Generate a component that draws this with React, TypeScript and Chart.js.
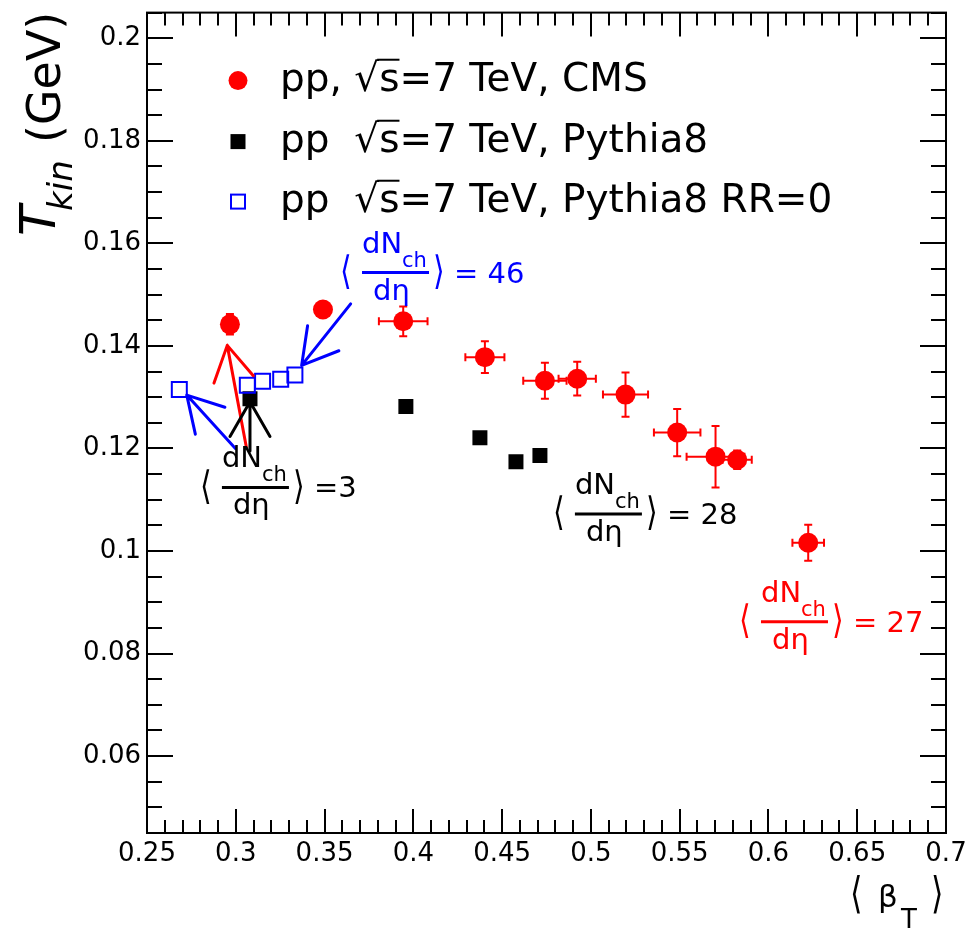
import React, { useEffect, useRef } from "react";
import { Chart, registerables } from "chart.js";

Chart.register(...registerables);

// ---------- data ----------
const X_MIN = 0.25;
const X_MAX = 0.7;
const Y_MIN = 0.045;
const Y_MAX = 0.205;
const X_TICKS = [0.25, 0.3, 0.35, 0.4, 0.45, 0.5, 0.55, 0.6, 0.65, 0.7];
const Y_TICKS = [0.06, 0.08, 0.1, 0.12, 0.14, 0.16, 0.18, 0.2];
const X_MINOR_STEP = 0.01;
const Y_MINOR_STEP = 0.005;

// pp, sqrt(s)=7 TeV, CMS
const CMS_BETA = [0.2967, 0.3491, 0.3943, 0.4403, 0.4741, 0.4923, 0.5195, 0.5486, 0.5702, 0.5824, 0.6224];
const CMS_TKIN = [0.1442, 0.1471, 0.1448, 0.1378, 0.1332, 0.1336, 0.1305, 0.1231, 0.1184, 0.1178, 0.1016];
const CMS_BETA_ERR = [0.004, 0, 0.0137, 0.011, 0.0122, 0.0105, 0.0127, 0.0131, 0.0163, 0.0082, 0.0089];
const CMS_TKIN_ERR = [0.002, 0, 0.0029, 0.0031, 0.0035, 0.0033, 0.0043, 0.0046, 0.006, 0.0018, 0.0035];

// pp, sqrt(s)=7 TeV, Pythia8
const PY8_BETA = [0.308, 0.3958, 0.4375, 0.4578, 0.4713];
const PY8_TKIN = [0.1297, 0.1282, 0.1221, 0.1174, 0.1186];

// pp, sqrt(s)=7 TeV, Pythia8 RR=0
const RR0_BETA = [0.2682, 0.3065, 0.3151, 0.3253, 0.3333];
const RR0_TKIN = [0.1315, 0.1323, 0.1331, 0.1335, 0.1343];

const LEGEND_LABELS = ["pp, √s=7 TeV, CMS", "pp  √s=7 TeV, Pythia8", "pp  √s=7 TeV, Pythia8 RR=0"];

// annotation arrows: tail -> head (data coordinates)
const ARROW_COLORS = ["#ff0000", "#000000", "#0000ff", "#0000ff"];
const ARROW_TAIL_X = [0.3061, 0.308, 0.2998, 0.3647];
const ARROW_TAIL_Y = [0.12, 0.1195, 0.12, 0.1482];
const ARROW_HEAD_X = [0.2952, 0.308, 0.2724, 0.3371];
const ARROW_HEAD_Y = [0.1401, 0.1291, 0.1304, 0.1362];

// <dNch/deta> labels (anchor = left end of fraction bar)
const NOTE_COLORS = ["#0000ff", "#000000", "#000000", "#ff0000"];
const NOTE_X = [0.3711, 0.2922, 0.491, 0.5958];
const NOTE_Y = [0.1543, 0.1124, 0.1072, 0.0862];
const NOTE_VALUES = ["= 46", "=3", "= 28", "= 27"];

const FONT = "'DejaVu Sans'";
const RED = "#ff0000";
const BLUE = "#0000ff";
const BLACK = "#000000";

const fmt = (v: number) => String(Number(Number(v).toFixed(3)));

function tallGlyph(ctx: CanvasRenderingContext2D, ch: string, x: number, y: number, size: number, sy: number) {
  ctx.save();
  ctx.translate(x, y);
  ctx.scale(1, sy);
  ctx.textAlign = "left";
  ctx.textBaseline = "middle";
  ctx.font = `${size}px ${FONT}`;
  ctx.fillText(ch, 0, 0);
  ctx.restore();
}

function drawBracketFrac(ctx: CanvasRenderingContext2D, X0: number, L: number, color: string, value: string) {
  ctx.save();
  ctx.fillStyle = color;
  ctx.strokeStyle = color;
  tallGlyph(ctx, "⟨", X0 - 22, L + 1, 30, 1.3);
  tallGlyph(ctx, "⟩", X0 + 71, L + 1, 30, 1.3);
  ctx.textAlign = "left";
  ctx.textBaseline = "alphabetic";
  ctx.font = `29px ${FONT}`;
  ctx.fillText("dN", X0, L - 20);
  ctx.fillText("dη", X0 + 11, L + 27);
  ctx.fillText(value, X0 + 92, L + 10);
  ctx.font = `21px ${FONT}`;
  ctx.fillText("ch", X0 + 40, L - 6);
  ctx.lineWidth = 3;
  ctx.beginPath();
  ctx.moveTo(X0, L);
  ctx.lineTo(X0 + 67, L);
  ctx.stroke();
  ctx.restore();
}

const decorPlugin = {
  id: "decor",
  beforeDatasetsDraw(chart: any) {
    const ctx: CanvasRenderingContext2D = chart.ctx;
    const xs = chart.scales.x;
    const ys = chart.scales.y;
    ctx.save();
    ctx.strokeStyle = RED;
    ctx.lineWidth = 2;
    const cap = 4;
    for (let i = 0; i < CMS_BETA.length; i++) {
      const px = xs.getPixelForValue(CMS_BETA[i]);
      const py = ys.getPixelForValue(CMS_TKIN[i]);
      if (CMS_BETA_ERR[i] > 0) {
        const x1 = xs.getPixelForValue(CMS_BETA[i] - CMS_BETA_ERR[i]);
        const x2 = xs.getPixelForValue(CMS_BETA[i] + CMS_BETA_ERR[i]);
        ctx.beginPath();
        ctx.moveTo(x1, py);
        ctx.lineTo(x2, py);
        ctx.moveTo(x1, py - cap);
        ctx.lineTo(x1, py + cap);
        ctx.moveTo(x2, py - cap);
        ctx.lineTo(x2, py + cap);
        ctx.stroke();
      }
      if (CMS_TKIN_ERR[i] > 0) {
        const y1 = ys.getPixelForValue(CMS_TKIN[i] - CMS_TKIN_ERR[i]);
        const y2 = ys.getPixelForValue(CMS_TKIN[i] + CMS_TKIN_ERR[i]);
        ctx.beginPath();
        ctx.moveTo(px, y1);
        ctx.lineTo(px, y2);
        ctx.moveTo(px - cap, y1);
        ctx.lineTo(px + cap, y1);
        ctx.moveTo(px - cap, y2);
        ctx.lineTo(px + cap, y2);
        ctx.stroke();
      }
    }
    ctx.restore();
  },
  afterDatasetsDraw(chart: any) {
    const ctx: CanvasRenderingContext2D = chart.ctx;
    const xs = chart.scales.x;
    const ys = chart.scales.y;
    const { left, right, top, bottom } = chart.chartArea;

    // arrows
    ctx.save();
    ctx.lineWidth = 3;
    ctx.lineCap = "round";
    for (let i = 0; i < ARROW_COLORS.length; i++) {
      const tx = xs.getPixelForValue(ARROW_TAIL_X[i]);
      const ty = ys.getPixelForValue(ARROW_TAIL_Y[i]);
      const hx = xs.getPixelForValue(ARROW_HEAD_X[i]);
      const hy = ys.getPixelForValue(ARROW_HEAD_Y[i]);
      const ang = Math.atan2(ty - hy, tx - hx);
      const hl = 40;
      const da = Math.PI / 6;
      ctx.strokeStyle = ARROW_COLORS[i];
      ctx.beginPath();
      ctx.moveTo(tx, ty);
      ctx.lineTo(hx, hy);
      ctx.moveTo(hx, hy);
      ctx.lineTo(hx + hl * Math.cos(ang + da), hy + hl * Math.sin(ang + da));
      ctx.moveTo(hx, hy);
      ctx.lineTo(hx + hl * Math.cos(ang - da), hy + hl * Math.sin(ang - da));
      ctx.stroke();
    }
    ctx.restore();

    // notes
    for (let i = 0; i < NOTE_VALUES.length; i++) {
      drawBracketFrac(ctx, xs.getPixelForValue(NOTE_X[i]), ys.getPixelForValue(NOTE_Y[i]), NOTE_COLORS[i], NOTE_VALUES[i]);
    }

    // frame + inner ticks
    ctx.save();
    ctx.strokeStyle = BLACK;
    ctx.lineWidth = 2;
    ctx.strokeRect(left, top, right - left, bottom - top);
    const majorLen = 24;
    const minorLen = 13;
    ctx.beginPath();
    const nx = Math.round((X_MAX - X_MIN) / X_MINOR_STEP);
    for (let k = 0; k <= nx; k++) {
      const v = X_MIN + k * X_MINOR_STEP;
      const major = X_TICKS.some((t) => Math.abs(t - v) < 1e-6);
      const len = major ? majorLen : minorLen;
      const px = Math.round(xs.getPixelForValue(v));
      ctx.moveTo(px, bottom);
      ctx.lineTo(px, bottom - len);
      ctx.moveTo(px, top);
      ctx.lineTo(px, top + len);
    }
    const ny = Math.round((Y_MAX - Y_MIN) / Y_MINOR_STEP);
    for (let k = 0; k <= ny; k++) {
      const v = Y_MIN + k * Y_MINOR_STEP;
      const major = Y_TICKS.some((t) => Math.abs(t - v) < 1e-6);
      const len = major ? majorLen + 2 : minorLen + 2;
      const py = Math.round(ys.getPixelForValue(v));
      ctx.moveTo(left, py);
      ctx.lineTo(left + len, py);
      ctx.moveTo(right, py);
      ctx.lineTo(right - len, py);
    }
    ctx.stroke();
    ctx.restore();

    // legend
    ctx.save();
    const mx = left + 91;
    const textX = left + 133;
    const rows = [top + 68, top + 129, top + 189];
    ctx.fillStyle = RED;
    ctx.beginPath();
    ctx.arc(mx, rows[0], 9.5, 0, Math.PI * 2);
    ctx.fill();
    ctx.fillStyle = BLACK;
    ctx.fillRect(mx - 7.5, rows[1] - 7.5, 15, 15);
    ctx.strokeStyle = BLUE;
    ctx.lineWidth = 2;
    ctx.strokeRect(mx - 7, rows[2] - 7, 14, 14);
    ctx.fillStyle = BLACK;
    ctx.strokeStyle = BLACK;
    ctx.font = `39px ${FONT}`;
    ctx.textAlign = "left";
    ctx.textBaseline = "middle";
    for (let i = 0; i < LEGEND_LABELS.length; i++) {
      const s = LEGEND_LABELS[i];
      ctx.fillText(s, textX, rows[i]);
      const iRoot = s.indexOf("√");
      const xa = textX + ctx.measureText(s.slice(0, iRoot + 1)).width - 2;
      const xb = textX + ctx.measureText(s.slice(0, iRoot + 2)).width;
      const m = ctx.measureText("√");
      const yTop = rows[i] - m.actualBoundingBoxAscent + 1;
      ctx.lineWidth = 2;
      ctx.beginPath();
      ctx.moveTo(xa, yTop);
      ctx.lineTo(xb, yTop);
      ctx.stroke();
    }
    ctx.restore();
  },
  afterDraw(chart: any) {
    const ctx: CanvasRenderingContext2D = chart.ctx;
    const { right, bottom } = chart.chartArea;
    ctx.save();
    ctx.fillStyle = BLACK;
    // x title: < beta_T >
    tallGlyph(ctx, "⟨", right - 96, bottom + 64, 32, 1.35);
    tallGlyph(ctx, "⟩", right - 15, bottom + 64, 32, 1.35);
    ctx.textAlign = "left";
    ctx.textBaseline = "alphabetic";
    ctx.font = `31px ${FONT}`;
    ctx.fillText("β", right - 68, bottom + 74);
    ctx.font = `26px ${FONT}`;
    ctx.fillText("T", right - 45, bottom + 95);
    // y title: T_kin (GeV)
    ctx.translate(55, 236);
    ctx.rotate(-Math.PI / 2);
    ctx.font = `italic 50px ${FONT}`;
    ctx.fillText("T", 0, 0);
    ctx.font = `italic 34px ${FONT}`;
    ctx.fillText("kin", 25, 17);
    ctx.font = `46px ${FONT}`;
    ctx.fillText("(GeV)", 93, 5);
    ctx.restore();
  },
};

export default function App() {
  const ref = useRef<HTMLCanvasElement | null>(null);
  useEffect(() => {
    if (!ref.current) return;
    const chart = new Chart(ref.current, {
      type: "scatter",
      data: {
        datasets: [
          {
            label: LEGEND_LABELS[0],
            data: CMS_BETA.map((x, i) => ({ x, y: CMS_TKIN[i] })),
            pointStyle: "circle",
            pointRadius: 10,
            backgroundColor: RED,
            borderWidth: 0,
          },
          {
            label: LEGEND_LABELS[2],
            data: RR0_BETA.map((x, i) => ({ x, y: RR0_TKIN[i] })),
            pointStyle: "rect",
            pointRadius: 10.6,
            backgroundColor: "rgba(0,0,0,0)",
            borderColor: BLUE,
            borderWidth: 2,
          },
          {
            label: LEGEND_LABELS[1],
            data: PY8_BETA.map((x, i) => ({ x, y: PY8_TKIN[i] })),
            pointStyle: "rect",
            pointRadius: 10.6,
            backgroundColor: BLACK,
            borderWidth: 0,
          },
        ],
      },
      options: {
        animation: false,
        responsive: false,
        devicePixelRatio: 1,
        events: [],
        layout: { padding: { left: 0, top: 9, right: 19, bottom: 0 } },
        plugins: { legend: { display: false }, tooltip: { enabled: false } },
        scales: {
          x: {
            type: "linear",
            min: X_MIN,
            max: X_MAX,
            grid: { display: false, drawTicks: false },
            border: { display: false },
            afterBuildTicks: (s: any) => {
              s.ticks = X_TICKS.map((v) => ({ value: v }));
            },
            afterFit: (s: any) => {
              s.height = 98;
              s.paddingLeft = 0;
              s.paddingRight = 0;
            },
            ticks: {
              autoSkip: false,
              maxRotation: 0,
              padding: 6,
              color: BLACK,
              font: { family: "DejaVu Sans", size: 26 },
              callback: (v: any) => fmt(v),
            },
          },
          y: {
            type: "linear",
            min: Y_MIN,
            max: Y_MAX,
            grid: { display: false, drawTicks: false },
            border: { display: false },
            afterBuildTicks: (s: any) => {
              s.ticks = Y_TICKS.map((v) => ({ value: v }));
            },
            afterFit: (s: any) => {
              s.width = 147;
              s.paddingTop = 0;
              s.paddingBottom = 0;
            },
            ticks: {
              autoSkip: false,
              padding: 6,
              color: BLACK,
              font: { family: "DejaVu Sans", size: 26 },
              callback: (v: any) => fmt(v),
            },
          },
        },
      },
      plugins: [decorPlugin],
    } as any);
    return () => chart.destroy();
  }, []);
  return (
    <div style={{ position: "absolute", left: 0, top: 0, width: 965, height: 931, background: "#fff" }}>
      <canvas ref={ref} width={965} height={931} />
    </div>
  );
}
